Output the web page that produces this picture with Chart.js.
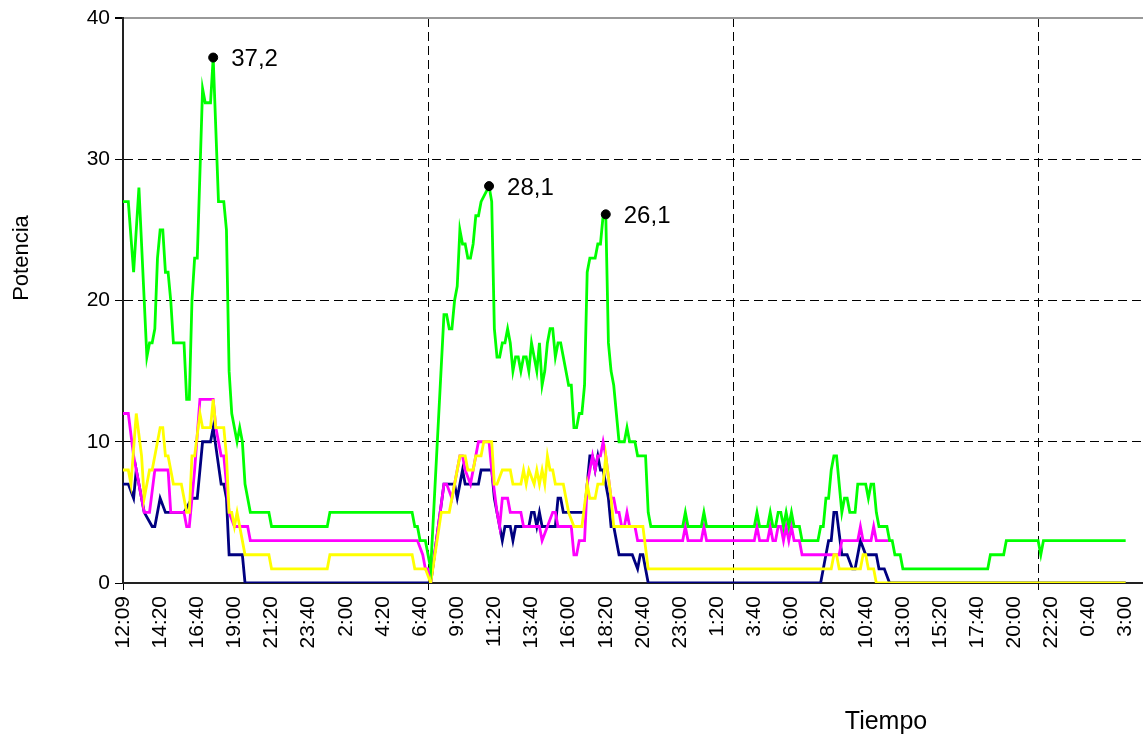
<!DOCTYPE html>
<html>
<head>
<meta charset="utf-8">
<script src="https://cdn.jsdelivr.net/npm/chart.js@4.4.1/dist/chart.umd.min.js"></script>
<style>
  html, body { margin: 0; padding: 0; background: #fff; overflow: hidden; }
  #wrap { position: relative; width: 1143px; height: 742px; overflow: hidden; }
  #chart { position: absolute; left: 0; top: 0; }
</style>
</head>
<body>
<div id="wrap"><canvas id="chart" width="1163" height="742"></canvas></div>
<script>
// tick labels, one every 14 readings (10 min each)
const timeLabels = ['12:09', '14:20', '16:40', '19:00', '21:20', '23:40', '2:00', '4:20', '6:40',
    '9:00', '11:20', '13:40', '16:00', '18:20', '20:40', '23:00', '1:20', '3:40', '6:00',
    '8:20', '10:40', '13:00', '15:20', '17:40', '20:00', '22:20', '0:40', '3:00'];
const TICK_EVERY = 14;
const GRID_EVERY = 115;
const yTicks = [0, 10, 20, 30, 40];

// [reading index, potencia] where the trace changes
const greenPts = [[0,27],[2,27],[4,22],[6,28],[9,16],[10,17],[11,17],[12,18],[13,23],[14,25],[15,25],[16,22],[17,22],[18,20],[19,17],[23,17],[24,13],[25,13],[26,20],[27,23],[28,23],[30,35],[31,34],[33,34],[34,37.2],[36,27],[38,27],[39,25],[40,15],[41,12],[43,10],[44,11],[45,10],[46,7],[48,5],[55,5],[56,4],[77,4],[78,5],[109,5],[110,4],[111,4],[112,3],[114,3],[116,1],
    [121,19],[122,19],[123,18],[124,18],[125,20],[126,21],[127,25],[128,24],[129,24],[130,23],[131,23],[132,24],[133,26],[134,26],[135,27],[138,28.1],[139,27],[140,18],[141,16],[142,16],[143,17],[144,17],[145,18],[146,17],[147,15],[148,16],[149,16],[150,15],[151,16],[152,16],[153,15],[154,17],[155,16],[156,15],[157,17],[158,14],[159,15],[160,17],[161,18],[162,18],[163,16],[164,17],[165,17],[168,14],[169,14],[170,11],[171,11],[172,12],[173,12],[174,14],[175,22],[176,23],[178,23],[179,24],[180,24],[181,26],[182,26.1],[183,17],[184,15],[185,14],[187,10],[189,10],[190,11],[191,10],[193,10],[194,9],[197,9],[198,5],[199,4],
    [211,4],[212,5],[213,4],[218,4],[219,5],[220,4],[238,4],[239,5],[240,4],[243,4],[244,5],[245,4],[246,4],[247,5],[248,5],[249,4],[250,5],[251,4],[252,5],[253,4],[255,4],[256,3],[262,3],[263,4],[264,4],[265,6],[266,6],[267,8],[268,9],[269,9],[270,7],[271,5],[272,6],[273,6],[274,5],[276,5],[277,7],[280,7],[281,6],[282,7],[283,7],[284,5],[285,4],[288,4],[289,3],[290,3],[291,2],[293,2],[294,1],[326,1],[327,2],[332,2],[333,3],[345,3],[346,2],[347,3],[378,3]];

const pinkPts = [[0,12],[2,12],[4,9],[5,8],[8,5],[10,5],[12,8],[17,8],[18,5],[23,5],[24,4],[25,4],[27,8],[29,13],[34,13],[35,11],[37,9],[38,9],[39,7],[40,5],[42,4],[47,4],[48,3],[111,3],[113,2],[114,1],[115,1],[116,0],
    [121,7],[122,7],[124,6],[125,7],[127,9],[128,9],[129,8],[131,7],[133,9],[134,10],[138,10],[139,8],[141,5],[142,4],[143,6],[145,6],[146,5],[150,5],[151,4],[157,4],[158,3],[160,4],[162,5],[163,5],[164,4],[169,4],[170,2],[171,2],[172,3],[174,3],[175,7],[176,8],[177,9],[178,8],[179,9],[180,9],[181,10],[182,9],[184,6],[185,6],[186,5],[187,5],[188,4],[189,4],[190,5],[191,4],[193,4],[194,3],
    [211,3],[212,4],[213,3],[218,3],[219,4],[220,3],[238,3],[239,4],[240,3],[243,3],[244,4],[245,3],[246,3],[247,4],[248,4],[249,3],[250,4],[251,3],[252,4],[253,3],[255,3],[256,2],[270,2],[271,3],[277,3],[278,4],[279,3],[282,3],[283,4],[284,3],[289,3]];

const yellowPts = [[0,8],[2,8],[3,7],[5,12],[7,9],[8,6],[10,8],[11,8],[14,11],[15,11],[16,9],[17,9],[19,7],[22,7],[24,5],[25,5],[26,9],[27,9],[29,12],[30,11],[33,11],[34,13],[35,11],[38,11],[39,9],[40,5],[41,5],[42,4],[43,5],[45,3],[46,2],[55,2],[56,1],[77,1],[78,2],[109,2],[110,1],[114,1],[116,0],
    [120,5],[123,5],[127,9],[129,9],[130,8],[132,8],[133,9],[135,9],[136,10],[139,10],[140,7],[141,7],[143,8],[146,8],[147,7],[150,7],[151,8],[152,7],[153,8],[155,7],[156,8],[157,7],[158,8],[159,7],[160,9],[161,8],[162,8],[163,7],[166,7],[167,6],[168,5],[170,4],[173,4],[175,7],[176,6],[178,6],[179,7],[181,7],[182,9],[184,6],[185,4],[196,4],[198,1],
    [267,1],[268,2],[269,2],[270,1],[278,1],[279,2],[280,2],[281,1],[283,1],[284,0],[378,0]];

const navyPts = [[0,7],[2,7],[4,6],[5,8],[8,5],[11,4],[12,4],[14,6],[16,5],[23,5],[26,6],[28,6],[30,10],[33,10],[34,11],[37,7],[38,7],[39,6],[40,2],[45,2],[46,0],[116,0],
    [121,7],[125,7],[126,6],[127,7],[128,8],[129,7],[134,7],[135,8],[139,8],[140,6],[142,4],[143,3],[144,4],[146,4],[147,3],[148,4],[153,4],[154,5],[155,5],[156,4],[157,5],[158,4],[163,4],[164,6],[165,6],[166,5],[174,5],[176,9],[177,9],[178,8],[179,9],[180,8],[181,8],[183,6],[184,4],[185,4],[187,2],[192,2],[194,1],[195,2],[196,2],[198,0],
    [263,0],[265,2],[266,3],[267,3],[268,5],[269,5],[271,2],[273,2],[275,1],[276,1],[278,3],[280,2],[284,2],[285,1],[287,1],[289,0],[378,0]];

// marked maxima
const peakIdx = [34, 138, 182];
const peakVal = [37.2, 28.1, 26.1];

const FONT = "'Liberation Sans', Arial, sans-serif";
const toXY = pts => pts.map(p => ({ x: p[0], y: p[1] }));

const tickValues = timeLabels.map((_, i) => i * TICK_EVERY)
    .concat([GRID_EVERY, GRID_EVERY * 2, GRID_EVERY * 3])
    .sort((a, b) => a - b);

// axis titles and peak labels
const textPlugin = {
    id: 'texts',
    afterDatasetsDraw(chart) {
        const { ctx } = chart;
        ctx.save();
        ctx.fillStyle = '#000';
        ctx.font = `24px ${FONT}`;
        ctx.textAlign = 'left';
        ctx.textBaseline = 'middle';
        chart.getDatasetMeta(0).data.forEach((pt, i) => {
            ctx.fillText(peakVal[i].toFixed(1).replace('.', ','), pt.x + 18, pt.y + 2);
        });

        ctx.textAlign = 'center';
        ctx.font = `25px ${FONT}`;
        ctx.fillText('Tiempo', 886, 722);
        ctx.font = `22px ${FONT}`;
        ctx.translate(22, 258);
        ctx.rotate(-Math.PI / 2);
        ctx.fillText('Potencia', 0, 0);
        ctx.restore();
    }
};

const line = (pts, color, order) => ({
    data: toXY(pts),
    borderColor: color,
    backgroundColor: color,
    borderWidth: 2.8,
    pointRadius: 0,
    tension: 0,
    order: order
});

const ctx = document.getElementById('chart').getContext('2d');
new Chart(ctx, {
    type: 'line',
    data: {
        datasets: [
            {
                data: peakIdx.map((x, i) => ({ x: x, y: peakVal[i] })),
                showLine: false,
                pointRadius: 4.5,
                pointBackgroundColor: '#000',
                pointBorderColor: '#000',
                order: 0
            },
            line(greenPts, '#00ff00', 1),
            line(yellowPts, '#ffff00', 2),
            line(pinkPts, '#ff00ff', 3),
            line(navyPts, '#000080', 4)
        ]
    },
    options: {
        responsive: false,
        animation: false,
        devicePixelRatio: 1,
        layout: { padding: { top: 18, left: 0, right: 0, bottom: 0 } },
        plugins: {
            legend: { display: false },
            tooltip: { enabled: false }
        },
        scales: {
            x: {
                type: 'linear',
                min: 0,
                max: 390,
                afterFit: (scale) => { scale.height = 159; },
                afterBuildTicks: (scale) => { scale.ticks = tickValues.map(v => ({ value: v })); },
                ticks: {
                    autoSkip: false,
                    minRotation: 90,
                    maxRotation: 90,
                    padding: 6,
                    color: '#000',
                    font: { family: FONT, size: 21 },
                    callback: (v) => v % TICK_EVERY === 0 ? timeLabels[v / TICK_EVERY] : ''
                },
                grid: {
                    color: (c) => (c.tick && c.tick.value > 0 && c.tick.value % GRID_EVERY === 0) ? '#000' : 'rgba(0,0,0,0)',
                    tickColor: (c) => (c.tick && c.tick.value % GRID_EVERY === 0) ? '#000' : 'rgba(0,0,0,0)',
                    lineWidth: 1,
                    tickLength: 7
                },
                border: { display: true, color: '#222', width: 2, dash: [9, 5] }
            },
            y: {
                min: 0,
                max: 40,
                afterFit: (scale) => { scale.width = 123; },
                afterBuildTicks: (scale) => { scale.ticks = yTicks.map(v => ({ value: v })); },
                ticks: {
                    padding: 5,
                    color: '#000',
                    font: { family: FONT, size: 21 }
                },
                grid: {
                    color: (c) => {
                        if (!c.tick) return 'rgba(0,0,0,0)';
                        if (c.tick.value === 40) return '#999';
                        if (c.tick.value === 0) return 'rgba(0,0,0,0)';
                        return '#000';
                    },
                    lineWidth: (c) => (c.tick && c.tick.value === 40) ? 2 : 1,
                    tickColor: '#000',
                    tickLength: 8
                },
                border: {
                    display: true, color: '#222', width: 2,
                    dash: (c) => (c.tick && c.tick.value === 40) ? [] : [9, 5]
                }
            }
        }
    },
    plugins: [textPlugin]
});
</script>
</body>
</html>
